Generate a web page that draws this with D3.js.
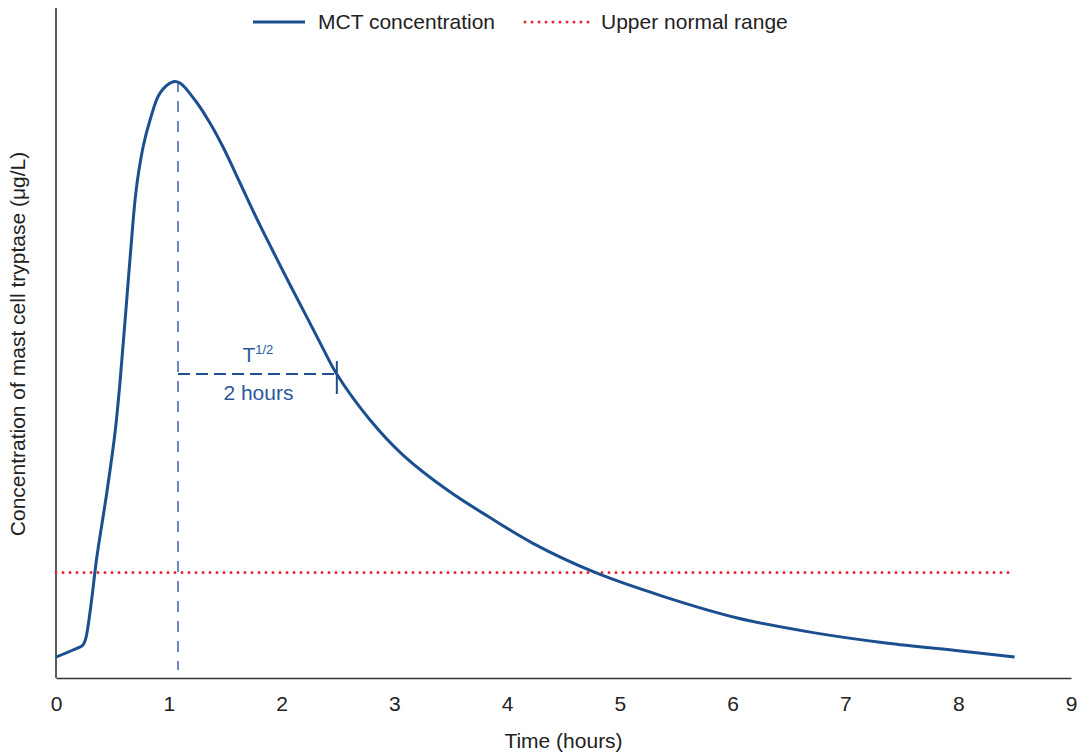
<!doctype html>
<html lang="en">
  <head>
    <meta charset="UTF-8" />
    <title>Mast cell tryptase</title>
    <script src="https://unpkg.com/d3@7.9.0/dist/d3.min.js"></script>
    <style>
      body {
        margin: 0;
        background: #fff;
        font-family: 'Liberation Sans', Arial, sans-serif;
      }
      svg text {
        fill: #222;
      }
    </style>
  </head>
  <body>
    <div id="chart"></div>
    <script>
      // values (arbitrary concentration units, 0-100)
      const hours = [
        0, 0.151, 0.239, 0.262, 0.283, 0.319, 0.361, 0.45, 0.523, 0.567,
        0.627, 0.685, 0.707, 0.73, 0.774, 0.834, 0.922, 1.04, 1.099, 1.232,
        1.365, 1.481, 1.632, 1.779, 1.924, 2.075, 2.223, 2.367, 2.489,
        2.785, 3.077, 3.47, 3.833, 4.229, 4.78, 5.382, 6.042, 6.701, 7.359,
        8.019, 8.5,
      ];
      const mct = [
        3.13, 4.18, 4.93, 5.8, 7.6, 12.09, 17.91, 27.61, 36.57, 44.03,
        56.42, 68.5, 72.3, 75.2, 79.4, 83.28, 87.31, 89.0, 88.81, 86.27,
        82.84, 79.25, 73.88, 68.6, 63.7, 58.7, 53.9, 49.2, 45.37,
        38.51, 33.28, 28.06, 24.1, 20.1, 15.75, 12.19, 8.96, 6.81, 5.22,
        4.03, 3.13,
      ];
      const upperNormal = 15.75;
      const upperRange = [0, 8.5];
      const peakTime = 1.082;
      const peakValue = 89.1;
      const halfTime = 2.49;
      const halfValue = 45.37;
      const xTicks = [0, 1, 2, 3, 4, 5, 6, 7, 8, 9];

      const W = 1084;
      const H = 753;
      const margin = { top: 8, right: 13, bottom: 75, left: 56 };
      const width = W - margin.left - margin.right;
      const height = H - margin.top - margin.bottom;

      const svg = d3
        .select('#chart')
        .append('svg')
        .attr('width', W)
        .attr('height', H);

      const g = svg
        .append('g')
        .attr('transform', `translate(${margin.left},${margin.top})`);

      const x = d3.scaleLinear().domain([0, 9]).range([0, width]);
      const y = d3.scaleLinear().domain([0, 100]).range([height, 0]);

      // axes (no tick marks, just the lines and labels)
      const xAxis = g
        .append('g')
        .attr('transform', `translate(0,${height})`)
        .call(d3.axisBottom(x).tickValues(xTicks).tickSize(0).tickPadding(18));
      xAxis.select('.domain').attr('stroke', '#333').attr('stroke-width', 1.6);
      xAxis
        .selectAll('text')
        .attr('font-size', 21)
        .attr('font-family', 'Liberation Sans, Arial, sans-serif')
        .attr('fill', '#222');

      g.append('line')
        .attr('x1', 0)
        .attr('x2', 0)
        .attr('y1', 0)
        .attr('y2', height)
        .attr('stroke', '#333')
        .attr('stroke-width', 1.6);

      // upper normal range
      g.append('line')
        .attr('x1', x(upperRange[0]))
        .attr('x2', x(upperRange[1]))
        .attr('y1', y(upperNormal))
        .attr('y2', y(upperNormal))
        .attr('stroke', '#e8293b')
        .attr('stroke-width', 3)
        .attr('stroke-linecap', 'round')
        .attr('stroke-dasharray', '0,7');

      // peak marker
      g.append('line')
        .attr('x1', x(peakTime))
        .attr('x2', x(peakTime))
        .attr('y1', y(peakValue))
        .attr('y2', y(1.2))
        .attr('stroke', '#6d86bd')
        .attr('stroke-width', 2)
        .attr('stroke-dasharray', '11,9');

      // half-life marker
      g.append('line')
        .attr('x1', x(peakTime))
        .attr('x2', x(halfTime))
        .attr('y1', y(halfValue))
        .attr('y2', y(halfValue))
        .attr('stroke', '#1f4f8e')
        .attr('stroke-width', 2)
        .attr('stroke-dasharray', '12,6');
      g.append('line')
        .attr('x1', x(halfTime))
        .attr('x2', x(halfTime))
        .attr('y1', y(halfValue) - 13)
        .attr('y2', y(halfValue) + 20)
        .attr('stroke', '#1f4f8e')
        .attr('stroke-width', 2);

      const midX = (x(peakTime) + x(halfTime)) / 2;
      const tLabel = g
        .append('text')
        .attr('x', midX - 15)
        .attr('y', y(halfValue) - 12)
        .attr('font-size', 21)
        .style('fill', '#2a5a9b');
      tLabel.append('tspan').text('T');
      tLabel
        .append('tspan')
        .attr('font-size', 13)
        .attr('dy', -8)
        .text('1/2');
      g.append('text')
        .attr('x', midX + 1)
        .attr('y', y(halfValue) + 26)
        .attr('text-anchor', 'middle')
        .attr('font-size', 21)
        .style('fill', '#2a5a9b')
        .text('2 hours');

      // MCT curve
      const points = hours.map((h, i) => [h, mct[i]]);
      const line = d3
        .line()
        .x((d) => x(d[0]))
        .y((d) => y(d[1]))
        .curve(d3.curveCatmullRom.alpha(0.5));
      g.append('path')
        .datum(points)
        .attr('d', line)
        .attr('fill', 'none')
        .attr('stroke', '#1b4f8f')
        .attr('stroke-width', 3);

      // axis titles
      svg
        .append('text')
        .attr('x', margin.left + x(4.5))
        .attr('y', 748)
        .attr('text-anchor', 'middle')
        .attr('font-size', 21)
        .text('Time (hours)');
      svg
        .append('text')
        .attr('transform', `translate(25,344) rotate(-90)`)
        .attr('text-anchor', 'middle')
        .attr('font-size', 21)
        .text('Concentration of mast cell tryptase (\u03bcg/L)');

      // legend
      const legend = svg.append('g').attr('transform', 'translate(253,22)');
      legend
        .append('line')
        .attr('x1', 0)
        .attr('x2', 52)
        .attr('stroke', '#1b4f8f')
        .attr('stroke-width', 3);
      legend
        .append('text')
        .attr('x', 65)
        .attr('y', 7)
        .attr('font-size', 21)
        .text('MCT concentration');
      legend
        .append('line')
        .attr('x1', 272)
        .attr('x2', 339)
        .attr('stroke', '#e8293b')
        .attr('stroke-width', 3)
        .attr('stroke-linecap', 'round')
        .attr('stroke-dasharray', '0,7');
      legend
        .append('text')
        .attr('x', 348)
        .attr('y', 7)
        .attr('font-size', 21)
        .text('Upper normal range');
    </script>
  </body>
</html>
